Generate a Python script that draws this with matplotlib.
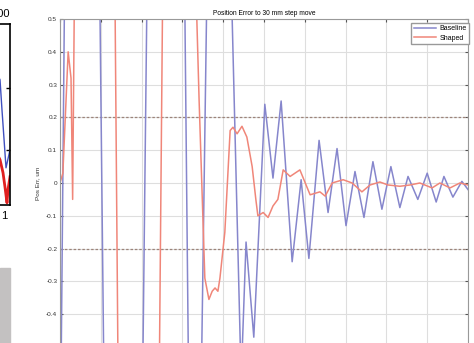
import matplotlib
matplotlib.use('Agg')
import matplotlib.pyplot as plt
from matplotlib.patches import Rectangle
import numpy as np

plt.rcParams['font.family'] = ['Liberation Sans', 'DejaVu Sans']

# time in ms, position error in um
t_base = [0, 0.1, 5.1, 15.4, 26.2, 32.8, 38.2, 44.4, 45.6, 47.5, 50.2, 52.2,
          54.2, 56.9, 59.1, 61.0, 63.5, 65.7, 67.9, 70.1, 72.3, 74.5, 76.7,
          78.9, 81.1, 83.3, 85.3, 87.7, 90.0, 92.2, 94.1, 96.3, 98.5, 100]
err_base = [0, -0.8, 6.0, -6.0, 6.0, -2.2, 2.5, -0.6, -0.18, -0.47, 0.24, 0.015,
            0.25, -0.24, 0.01, -0.23, 0.13, -0.09, 0.105, -0.13, 0.035, -0.105, 0.065,
            -0.08, 0.05, -0.075, 0.02, -0.05, 0.03, -0.058, 0.02, -0.043, 0.005, -0.02]

t_shaped = [0, 0.7, 2.0, 2.7, 3.1, 8.6, 19.1, 30.4, 32.4, 34.1, 35.5, 36.5,
            37.3, 38.0, 38.7, 39.2, 40.4, 41.7, 42.4, 43.4, 44.6, 45.8, 47.1,
            48.0, 48.5, 49.8, 51.0, 52.2, 53.4, 54.7, 56.4, 58.8, 61.3, 63.7,
            65.0, 66.7, 69.4, 71.6, 74.0, 76.0, 78.4, 80.4, 83.3, 85.8, 88.2,
            91.2, 93.1, 95.6, 98.0, 100]
err_shaped = [0, 0.03, 0.40, 0.32, -0.05, 8.0, -8.0, 8.0, 1.0, 0.25, -0.29, -0.355,
              -0.33, -0.32, -0.33, -0.29, -0.15, 0.16, 0.17, 0.15, 0.173, 0.14, 0.05,
              -0.05, -0.1, -0.09, -0.105, -0.07, -0.05, 0.04, 0.02, 0.04, -0.036, -0.027,
              -0.04, 0, 0.01, 0, -0.027, -0.006, 0.003, -0.006, -0.01, -0.006, 0,
              -0.015, 0, -0.015, 0, -0.006]

limit = 0.2
y_ticks = [-0.4, -0.3, -0.2, -0.1, 0, 0.1, 0.2, 0.3, 0.4, 0.5]
y_ticklabels = ['-0.4', '-0.3', '-0.2', '-0.1', '0', '0.1', '0.2', '0.3', '0.4', '0.5']

# cut-off piece of the neighbouring chart
side_x_blue = [0.733, 0.917, 0.953, 1.027, 1.1]
side_y_blue = [2.45, 2.13, 1.645, 0.71, 1.0]
side_x_red = [0.733, 0.917, 0.972, 1.008, 1.045, 1.063, 1.1]
side_y_red = [1.16, 0.84, 0.63, 0.40, 0.145, 0.355, 0.565]

blue = '#8686cc'
red = '#f08679'

fig = plt.figure(figsize=(4.74, 3.43), dpi=100)

ax = fig.add_axes([60/474, -4/343, 408/474, 328/343])
ax.axhline(limit, color='#9c847a', lw=0.9, ls=(0, (2, 1.5)), zorder=1.5)
ax.axhline(-limit, color='#9c847a', lw=0.9, ls=(0, (2, 1.5)), zorder=1.5)
ax.plot(t_base, err_base, color=blue, lw=1.1, label='Baseline')
ax.plot(t_shaped, err_shaped, color=red, lw=1.1, label='Shaped')
ax.set_xlim(0, 100)
ax.set_ylim(-0.5, 0.5)
ax.set_xticks(np.arange(0, 101, 10))
ax.set_yticks(y_ticks)
ax.set_yticklabels(y_ticklabels)
ax.grid(True, color='#dedede', lw=0.8)
ax.set_axisbelow(True)
ax.tick_params(direction='in', length=2, top=True, right=True, labelsize=4.6,
               colors='#555555', labelcolor='#333333', pad=2, labelbottom=False)
for s in ax.spines.values():
    s.set_color('#999999')
    s.set_linewidth(0.8)
ax.set_title('Position Error to 30 mm step move', fontsize=4.8, pad=3)
ax.set_ylabel('Pos Err, um', fontsize=4.6, color='#333333')
ax.yaxis.set_label_coords(-0.049, 0.5)
ax.legend(loc='upper right', bbox_to_anchor=(1.0025, 0.988), borderaxespad=0,
          fontsize=5, handlelength=3.2, fancybox=False, edgecolor='#999999',
          framealpha=1, borderpad=0.35, labelspacing=0.35, handletextpad=0.5)

ax2 = fig.add_axes([-50/474, 138/343, 60/474, 181/343])
ax2.plot(side_x_blue, side_y_blue, color='#4050c0', lw=1.0)
ax2.plot(side_x_red, side_y_red, color='#e02020', lw=2.0)
ax2.set_xlim(0, 1.1)
ax2.set_ylim(0.11, 3.03)
ax2.set_xticks([1])
ax2.set_yticks([1, 2])
ax2.yaxis.tick_right()
ax2.tick_params(axis='y', direction='in', length=3, width=1, labelright=False)
ax2.tick_params(axis='x', length=0, labelsize=8, pad=4)
ax2.spines['left'].set_visible(False)
for s in ['top', 'right', 'bottom']:
    ax2.spines[s].set_linewidth(1.2)
ax2.set_title('100', loc='right', fontsize=8, pad=5)

fig.patches.append(Rectangle((0, 0), 10/474, 75/343, transform=fig.transFigure,
                             color='#c3c1c1', zorder=0))

fig.savefig('out.png', dpi=100)
